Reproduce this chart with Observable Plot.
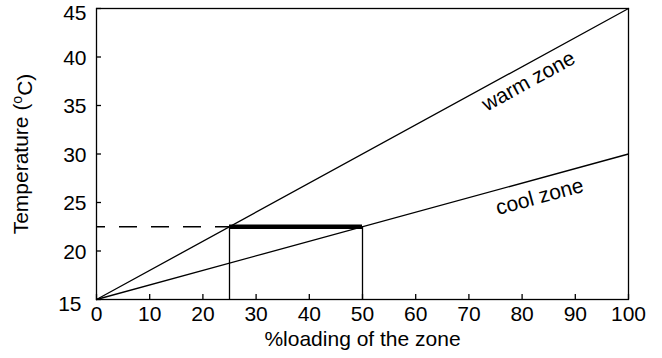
<!DOCTYPE html>
<html>
<head>
<meta charset="utf-8">
<script src="https://cdn.jsdelivr.net/npm/d3@7"></script>
<script src="https://cdn.jsdelivr.net/npm/@observablehq/plot@0.6"></script>
<style>
  html, body { margin: 0; padding: 0; background: #fff; }
  #chart { width: 662px; height: 358px; }
</style>
</head>
<body>
<div id="chart"></div>
<script>
// ---- data ----
const loading = [0, 100];             // % loading of the zone
const warmZone = [15, 45];            // temperature (°C), warm zone
const coolZone = [15, 30];            // temperature (°C), cool zone
const setTemp = [22.5];               // set-point temperature
const warmLoad = [25];                // loading where warm zone reaches set point
const coolLoad = [50];                // loading where cool zone reaches set point
const xTicks = [0, 10, 20, 30, 40, 50, 60, 70, 80, 90, 100];
const yTicks = [15, 20, 25, 30, 35, 40, 45];
const labelText = ["warm zone", "cool zone"];
const labelX = [81.2, 83.3];
const labelY = [37.5, 25.6];
const labelAngle = [-28.7, -15.3];

const warmData = loading.map((x, i) => ({x, y: warmZone[i]}));
const coolData = loading.map((x, i) => ({x, y: coolZone[i]}));
const labels = labelText.map((t, i) => ({t, x: labelX[i], y: labelY[i], a: labelAngle[i]}));
const yMin = yTicks[0], yMax = yTicks[yTicks.length - 1];
const yInner = yTicks.filter(v => v !== yMin && v !== yMax);

const font = "Liberation Sans, Arial, Helvetica, sans-serif";
const fs = 21;

const chart = Plot.plot({
  width: 662,
  height: 358,
  marginLeft: 96,
  marginRight: 34,
  marginTop: 8,
  marginBottom: 59,
  style: {fontFamily: font, fontSize: fs + "px", color: "#000", background: "#fff", overflow: "visible"},
  x: {domain: [0, 100]},
  y: {domain: [15, 45]},
  marks: [
    Plot.frame({stroke: "#000", strokeWidth: 1.3}),
    // inward ticks (no text)
    Plot.axisX(xTicks, {tickSize: -5, tickFormat: () => "", label: null, stroke: "#000", strokeWidth: 1.3}),
    Plot.axisY(yTicks, {tickSize: -5, tickFormat: () => "", label: null, stroke: "#000", strokeWidth: 1.3}),
    // tick labels + axis titles
    Plot.axisX(xTicks, {tickSize: 0, tickPadding: 7, fontSize: fs, label: "%loading of the zone", labelAnchor: "center", labelArrow: "none", labelOffset: 46}),
    Plot.axisY(yInner, {tickSize: 0, tickPadding: 10, fontSize: fs, dy: 1, label: "Temperature (oC)", labelAnchor: "center", labelArrow: "none", labelOffset: 83}),
    Plot.axisY([yMax], {tickSize: 0, tickPadding: 10, fontSize: fs, dy: 4.5, label: null}),
    Plot.axisY([yMin], {tickSize: 0, tickPadding: 10, fontSize: fs, dy: 5, dx: -5, label: null}),
    Plot.line(warmData, {x: "x", y: "y", stroke: "#000", strokeWidth: 1.3}),
    Plot.line(coolData, {x: "x", y: "y", stroke: "#000", strokeWidth: 1.3}),
    Plot.ruleY(setTemp, {x1: loading[0], x2: warmLoad[0], stroke: "#000", strokeWidth: 1.3, strokeDasharray: "18,14", strokeDashoffset: 9}),
    Plot.ruleY(setTemp, {x1: warmLoad[0], x2: coolLoad[0], stroke: "#000", strokeWidth: 4.5}),
    Plot.ruleX(warmLoad.concat(coolLoad), {y1: yMin, y2: setTemp[0], stroke: "#000", strokeWidth: 1.3}),
    Plot.text(labels, {x: "x", y: "y", text: "t", rotate: "a", fontSize: fs, fill: "#000"})
  ]
});

document.getElementById("chart").appendChild(chart);

// axis titles: font size and superscript "o"
d3.select(chart).selectAll("text").each(function() {
  const el = d3.select(this);
  const t = el.text();
  if (t === "Temperature (oC)") {
    el.attr("font-size", fs);
    el.text(null);
    el.append("tspan").text("Temperature (");
    el.append("tspan").attr("font-size", "14px").attr("dy", "-0.45em").text("o");
    el.append("tspan").attr("dy", "0.45em").text("C)");
  } else if (t === "%loading of the zone") {
    el.attr("font-size", fs);
  }
});
</script>
</body>
</html>
